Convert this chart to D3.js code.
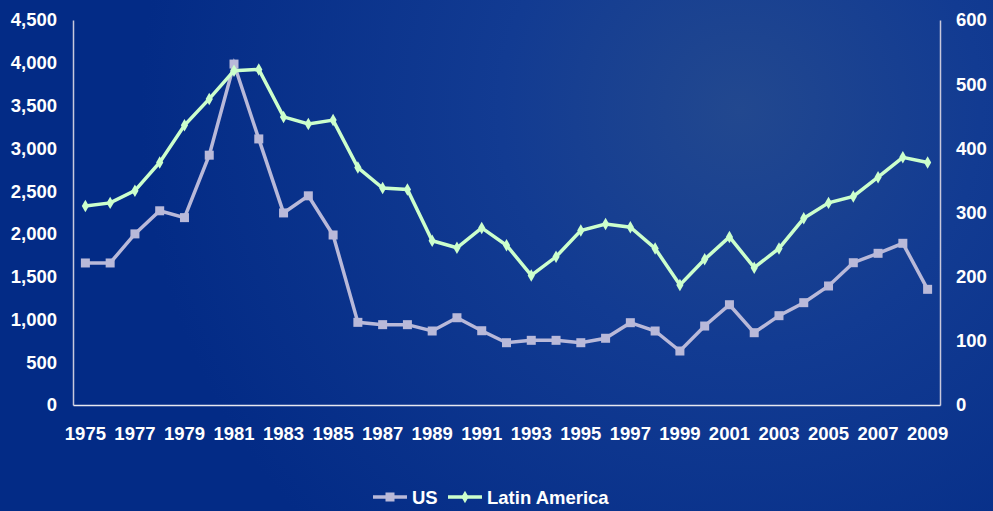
<!DOCTYPE html>
<html>
<head>
<meta charset="utf-8">
<script src="https://cdn.jsdelivr.net/npm/d3@7"></script>
<style>
  body { margin: 0; background: #022a8a; }
  svg { display: block; font-family: "Liberation Sans", Arial, sans-serif; font-weight: bold; }
</style>
</head>
<body>
<script>
const margin = {top: 20, right: 53, bottom: 106, left: 73}
, width = 993 - margin.left - margin.right
, height = 511 - margin.top - margin.bottom

// data
const years = d3.range(1975, 2010)
const us = [1660, 1660, 2000, 2270, 2190, 2920, 3985, 3110, 2245, 2445,
  1987, 966, 939, 939, 865, 1020, 868, 728, 756, 756,
  728, 780, 962, 865, 631, 923, 1172, 845, 1044, 1196,
  1391, 1663, 1773, 1890, 1352]
const latam = [310, 315, 334, 378, 436, 477, 521, 523, 449, 438,
  444, 370, 338, 336, 256, 245, 276, 249, 202, 231,
  272, 282, 277, 244, 187, 227, 262, 214, 244, 291,
  315, 325, 355, 386, 378]
const leftTicks = d3.range(0, 4501, 500)
const rightTicks = d3.range(0, 601, 100)
const yearTicks = years.filter(y => (y - 1975) % 2 == 0)

const usColor = '#b9b9d9'
const laColor = '#ccffcc'

const svg = d3.select('body').append('svg')
    .attr('width', 993)
    .attr('height', 511)

// background
const defs = svg.append('defs')
const grad = defs.append('radialGradient')
    .attr('id', 'bg')
    .attr('gradientUnits', 'userSpaceOnUse')
    .attr('cx', 740).attr('cy', 110).attr('r', 600)
grad.append('stop').attr('offset', '0%').attr('stop-color', '#22488f')
grad.append('stop').attr('offset', '40%').attr('stop-color', '#123b92')
grad.append('stop').attr('offset', '100%').attr('stop-color', '#032b86')

svg.append('rect')
    .attr('width', 993).attr('height', 511)
    .attr('fill', 'url(#bg)')

const g = svg.append('g')
    .attr('transform', 'translate(' + margin.left + ',' + margin.top + ')')

// scales
const xScale = d3.scaleBand()
    .domain(years)
    .range([0, width])

const x = d => xScale(d) + xScale.bandwidth() / 2

const yLeft = d3.scaleLinear()
    .domain([0, 4500])
    .range([height, 0])

const yRight = d3.scaleLinear()
    .domain([0, 600])
    .range([height, 0])

// axes
const axisColor = '#c8c8dc'

const leftAxis = g.append('g')
    .call(d3.axisLeft(yLeft).tickValues(leftTicks).tickSize(0).tickPadding(16).tickFormat(d3.format(',')))
leftAxis.select('.domain').attr('stroke', axisColor).attr('stroke-width', 1.5)

const rightAxis = g.append('g')
    .attr('transform', 'translate(' + width + ',0)')
    .call(d3.axisRight(yRight).tickValues(rightTicks).tickSize(0).tickPadding(16))
rightAxis.select('.domain').attr('stroke', axisColor).attr('stroke-width', 1.5)

const bottomAxis = g.append('g')
    .attr('transform', 'translate(0,' + height + ')')
    .call(d3.axisBottom(xScale).tickValues(yearTicks).tickSize(0).tickPadding(22))
bottomAxis.select('.domain').attr('stroke', '#e8e8f0').attr('stroke-width', 1.5)

g.selectAll('.tick text')
    .attr('fill', 'white')
    .style('font-size', '18.5px')
    .style('font-weight', 'bold')
    .style('font-family', '"Liberation Sans", Arial, sans-serif')

// lines
const usLine = d3.line()
    .x((d, i) => x(years[i]))
    .y(d => yLeft(d))

const laLine = d3.line()
    .x((d, i) => x(years[i]))
    .y(d => yRight(d))

g.append('path')
    .datum(us)
    .attr('d', usLine)
    .attr('fill', 'none')
    .attr('stroke', usColor)
    .attr('stroke-width', 3.5)

g.selectAll('.us-dot').data(us)
    .enter()
    .append('rect')
        .attr('x', (d, i) => x(years[i]) - 4.5)
        .attr('y', d => yLeft(d) - 4.5)
        .attr('width', 9)
        .attr('height', 9)
        .attr('fill', usColor)

g.append('path')
    .datum(latam)
    .attr('d', laLine)
    .attr('fill', 'none')
    .attr('stroke', laColor)
    .attr('stroke-width', 3.5)

const diamond = d3.symbol().type(d3.symbolDiamond).size(45)

g.selectAll('.la-dot').data(latam)
    .enter()
    .append('path')
        .attr('d', diamond)
        .attr('transform', (d, i) => 'translate(' + x(years[i]) + ',' + yRight(d) + ')')
        .attr('fill', laColor)

// legend
const legend = svg.append('g')
    .attr('transform', 'translate(0,497)')

const items = [
  {name: 'US', color: usColor, x: 373, marker: 'square'},
  {name: 'Latin America', color: laColor, x: 448, marker: 'diamond'}
]

items.forEach(it => {
  legend.append('line')
      .attr('x1', it.x).attr('x2', it.x + 34)
      .attr('y1', 0).attr('y2', 0)
      .attr('stroke', it.color)
      .attr('stroke-width', 3.5)
  if (it.marker == 'square') {
    legend.append('rect')
        .attr('x', it.x + 17 - 4.5).attr('y', -4.5)
        .attr('width', 9).attr('height', 9)
        .attr('fill', it.color)
  } else {
    legend.append('path')
        .attr('d', diamond)
        .attr('transform', 'translate(' + (it.x + 17) + ',0)')
        .attr('fill', it.color)
  }
  legend.append('text')
      .attr('x', it.x + 39)
      .attr('y', 6.5)
      .attr('fill', 'white')
      .style('font-size', '18.5px')
      .text(it.name)
})
</script>
</body>
</html>
